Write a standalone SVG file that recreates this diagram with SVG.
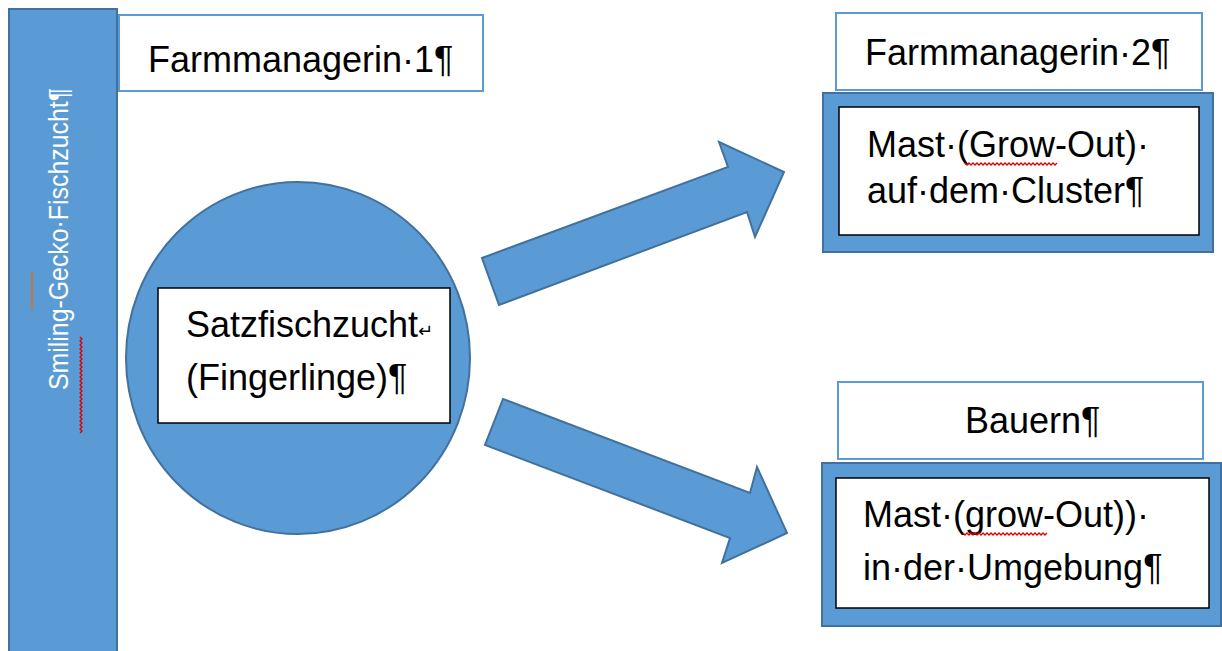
<svg xmlns="http://www.w3.org/2000/svg" width="1222" height="651" viewBox="0 0 1222 651">
<style>
.blue{fill:#5B9BD5;stroke:#41719C;stroke-width:2}
.lbox{fill:#FFFFFF;stroke:#5B9BD5;stroke-width:2}
.wbox{fill:#FFFFFF;stroke:#000000;stroke-width:1.5}
.t{font-family:"Liberation Sans",Arial,sans-serif;font-size:36px;fill:#000000}
.vt{font-family:"Liberation Sans",Arial,sans-serif;font-size:27px;fill:#FFFFFF}
.sq{fill:none;stroke:#E00000;stroke-width:1.3}
</style>
<rect width="1222" height="651" fill="#FFFFFF"/>
<g id="bar">
<rect class="blue" x="9" y="9" width="108" height="660"/>
<text class="vt" transform="translate(68,390) rotate(-90)" textLength="302" lengthAdjust="spacingAndGlyphs">Smiling-Gecko·Fischzucht¶</text>
<line x1="32" y1="272" x2="32" y2="310" stroke="#C07A3A" stroke-width="2"/>
<path class="sq" d="M80,337 l2,2 l-2,2 l2,2 l-2,2 l2,2 l-2,2 l2,2 l-2,2 l2,2 l-2,2 l2,2 l-2,2 l2,2 l-2,2 l2,2 l-2,2 l2,2 l-2,2 l2,2 l-2,2 l2,2 l-2,2 l2,2 l-2,2 l2,2 l-2,2 l2,2 l-2,2 l2,2 l-2,2 l2,2 l-2,2 l2,2 l-2,2 l2,2 l-2,2 l2,2 l-2,2 l2,2 l-2,2 l2,2 l-2,2 l2,2 l-2,2 l2,2 l-2,2 l2,2 l-2,2"/>
</g>
<g id="farm1">
<rect class="lbox" x="119" y="15" width="364" height="76"/>
<text class="t" x="148" y="72">Farmmanagerin·1¶</text>
</g>
<g id="satz">
<ellipse class="blue" cx="298" cy="358" rx="172" ry="176"/>
<rect class="wbox" x="158" y="288" width="292" height="135"/>
<text class="t" x="186" y="337">Satzfischzucht<tspan font-family="DejaVu Sans,sans-serif" font-size="18px">↵</tspan></text>
<text class="t" x="186" y="390">(Fingerlinge)¶</text>
</g>
<g id="farm2">
<rect class="lbox" x="836" y="13" width="366" height="77"/>
<text class="t" x="865" y="65">Farmmanagerin·2¶</text>
</g>
<g id="cluster">
<rect class="blue" x="823" y="93" width="390" height="159"/>
<rect class="wbox" x="839" y="107" width="360" height="128"/>
<text class="t" x="867" y="157">Mast·(Grow-Out)·</text>
<text class="t" x="867" y="203">auf·dem·Cluster¶</text>
<path class="sq" d="M965,163 l2,2 l2,-2 l2,2 l2,-2 l2,2 l2,-2 l2,2 l2,-2 l2,2 l2,-2 l2,2 l2,-2 l2,2 l2,-2 l2,2 l2,-2 l2,2 l2,-2 l2,2 l2,-2 l2,2 l2,-2 l2,2 l2,-2 l2,2 l2,-2 l2,2 l2,-2 l2,2 l2,-2 l2,2 l2,-2 l2,2 l2,-2 l2,2 l2,-2 l2,2 l2,-2 l2,2 l2,-2 l2,2 l2,-2 l2,2 l2,-2 l2,2 l2,-2"/>
</g>
<g id="bauern">
<rect class="lbox" x="838" y="382" width="365" height="77"/>
<text class="t" x="965" y="433">Bauern¶</text>
</g>
<g id="umgebung">
<rect class="blue" x="822" y="463" width="399" height="163"/>
<rect class="wbox" x="836" y="478" width="373" height="130"/>
<text class="t" x="863" y="527">Mast·(grow-Out))·</text>
<text class="t" x="863" y="580">in·der·Umgebung¶</text>
<path class="sq" d="M963,533 l2,2 l2,-2 l2,2 l2,-2 l2,2 l2,-2 l2,2 l2,-2 l2,2 l2,-2 l2,2 l2,-2 l2,2 l2,-2 l2,2 l2,-2 l2,2 l2,-2 l2,2 l2,-2 l2,2 l2,-2 l2,2 l2,-2 l2,2 l2,-2 l2,2 l2,-2 l2,2 l2,-2 l2,2 l2,-2 l2,2 l2,-2 l2,2 l2,-2 l2,2 l2,-2 l2,2 l2,-2 l2,2 l2,-2"/>
</g>
<g id="connectors">
<polygon class="blue" points="482,258 728,167 719,142 784,172 755,237 747,212 499,305"/>
<polygon class="blue" points="503,399 750,493 757,467 787,533 722,563 730,538 485,445"/>
</g>
</svg>
